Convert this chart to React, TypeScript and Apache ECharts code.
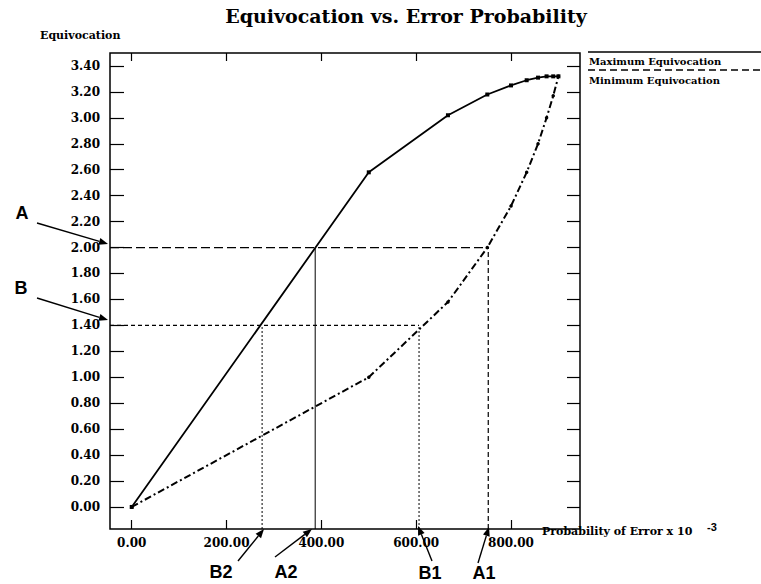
import React, { useEffect, useRef } from "react";
import * as echarts from "echarts";

// Data
const probError = [0, 500, 667, 750, 800, 833, 857, 875, 889, 900];
const maxEquivocation = [0, 2.58, 3.02, 3.18, 3.25, 3.29, 3.31, 3.32, 3.32, 3.32];
const minEquivocation = [0, 1.0, 1.58, 2.0, 2.32, 2.58, 2.8, 3.0, 3.17, 3.32];

const yTickValues = [0, 0.2, 0.4, 0.6, 0.8, 1.0, 1.2, 1.4, 1.6, 1.8, 2.0, 2.2, 2.4, 2.6, 2.8, 3.0, 3.2, 3.4];
const xTickValues = [0, 200, 400, 600, 800];

const levelA = 2.0;
const levelB = 1.4;
const a1X = 752;
const a2X = 387;
const b1X = 606;
const b2X = 275;

const X_MIN = -45.8;
const X_MAX = 945.5;
const Y_MIN = -0.17;
const Y_MAX = 3.5;

const SERIF = "DejaVu Serif";
const SANS = "Liberation Sans";

function arrow(x1: number, y1: number, x2: number, y2: number) {
  const ang = Math.atan2(y2 - y1, x2 - x1);
  const c = Math.cos(ang);
  const s = Math.sin(ang);
  const L = 9;
  const W = 3.5;
  const bx = x2 - L * c;
  const by = y2 - L * s;
  const px = -s * W;
  const py = c * W;
  return [
    {
      type: "line",
      shape: { x1, y1, x2: bx, y2: by },
      style: { stroke: "#000", lineWidth: 1.4 },
      z: 100,
    },
    {
      type: "polygon",
      shape: { points: [[x2, y2], [bx + px, by + py], [bx - px, by - py]] },
      style: { fill: "#000" },
      z: 100,
    },
  ];
}

function annText(text: string, x: number, y: number) {
  return {
    type: "text",
    x,
    y,
    style: {
      text,
      fill: "#000",
      font: `bold 18px "${SANS}"`,
      textAlign: "center",
      textVerticalAlign: "middle",
    },
    z: 100,
  };
}

function refLine(data: number[][], type: any, width: number) {
  return {
    type: "line",
    data,
    symbol: "none",
    silent: true,
    lineStyle: { color: "#000", width, type },
    z: 1,
  };
}

export default function App() {
  const ref = useRef<HTMLDivElement>(null);

  useEffect(() => {
    if (!ref.current) return;
    const chart = echarts.init(ref.current, undefined, { renderer: "svg" });

    const maxData = probError.map((p, i) => [p, maxEquivocation[i]]);
    const minData = probError.map((p, i) => [p, minEquivocation[i]]);

    const labelStyle = {
      fontFamily: SERIF,
      fontWeight: "bold" as const,
      fontSize: 12,
      color: "#000",
    };
    const tickLine = { color: "#000", width: 1.2 };

    const option: any = {
      animation: false,
      backgroundColor: "#fff",
      grid: {
        left: 110,
        right: 181,
        top: 53,
        bottom: 55,
        show: true,
        borderColor: "#000",
        borderWidth: 1.5,
      },
      xAxis: [
        {
          type: "value",
          position: "bottom",
          min: X_MIN,
          max: X_MAX,
          axisLine: { show: false, onZero: false },
          splitLine: { show: false },
          axisTick: { inside: true, length: 9, customValues: xTickValues, lineStyle: tickLine },
          axisLabel: {
            ...labelStyle,
            customValues: xTickValues,
            margin: 8,
            formatter: (v: number) => v.toFixed(2),
          },
        },
        {
          type: "value",
          position: "top",
          min: X_MIN,
          max: X_MAX,
          axisLine: { show: false, onZero: false },
          splitLine: { show: false },
          axisTick: { inside: true, length: 8, customValues: xTickValues, lineStyle: tickLine },
          axisLabel: { show: false },
        },
      ],
      yAxis: [
        {
          type: "value",
          position: "left",
          min: Y_MIN,
          max: Y_MAX,
          axisLine: { show: false, onZero: false },
          splitLine: { show: false },
          axisTick: { inside: true, length: 14, customValues: yTickValues, lineStyle: tickLine },
          axisLabel: {
            ...labelStyle,
            customValues: yTickValues,
            margin: 10,
            formatter: (v: number) => v.toFixed(2),
          },
        },
        {
          type: "value",
          position: "right",
          min: Y_MIN,
          max: Y_MAX,
          axisLine: { show: false, onZero: false },
          splitLine: { show: false },
          axisTick: { inside: true, length: 13, customValues: yTickValues, lineStyle: tickLine },
          axisLabel: { show: false },
        },
      ],
      series: [
        {
          name: "Maximum Equivocation",
          type: "line",
          data: maxData,
          symbol: "rect",
          symbolSize: 4,
          lineStyle: { color: "#000", width: 1.8 },
          itemStyle: { color: "#000" },
          z: 5,
        },
        {
          name: "Minimum Equivocation",
          type: "line",
          data: minData,
          symbol: "circle",
          symbolSize: 3.5,
          lineStyle: { color: "#000", width: 2, type: [7, 3, 2, 3] },
          itemStyle: { color: "#000" },
          z: 5,
        },
        // A: horizontal at 2.00, verticals A1 (dashed) and A2 (solid)
        refLine([[X_MIN, levelA], [a1X, levelA]], [9, 4], 1.2),
        refLine([[a1X, Y_MIN], [a1X, levelA]], [5, 3], 1.2),
        refLine([[a2X, Y_MIN], [a2X, levelA]], "solid", 1),
        // B: horizontal at 1.40, verticals B1, B2 (dotted)
        refLine([[X_MIN, levelB], [b1X, levelB]], [4, 3], 1.2),
        refLine([[b1X, Y_MIN], [b1X, levelB]], [2, 2], 1),
        refLine([[b2X, Y_MIN], [b2X, levelB]], [2, 2], 1),
      ],
      graphic: [
        {
          type: "text",
          x: 406,
          y: 16,
          style: {
            text: "Equivocation vs. Error Probability",
            fill: "#000",
            font: `bold 19px "${SERIF}"`,
            textAlign: "center",
            textVerticalAlign: "middle",
          },
        },
        {
          type: "text",
          x: 40,
          y: 35,
          style: {
            text: "Equivocation",
            fill: "#000",
            font: `bold 11px "${SERIF}"`,
            textAlign: "left",
            textVerticalAlign: "middle",
          },
        },
        {
          type: "text",
          x: 542,
          y: 531,
          style: {
            text: "Probability of Error x 10",
            fill: "#000",
            font: `bold 11px "${SERIF}"`,
            textAlign: "left",
            textVerticalAlign: "middle",
          },
          z: 50,
        },
        {
          type: "text",
          x: 707,
          y: 527,
          style: {
            text: "-3",
            fill: "#000",
            font: `bold 11px "${SANS}"`,
            textAlign: "left",
            textVerticalAlign: "middle",
          },
          z: 50,
        },
        // legend
        {
          type: "line",
          shape: { x1: 588, y1: 52, x2: 761, y2: 52 },
          style: { stroke: "#000", lineWidth: 1.5 },
        },
        {
          type: "text",
          x: 589,
          y: 61,
          style: {
            text: "Maximum Equivocation",
            fill: "#000",
            font: `bold 10px "${SERIF}"`,
            textAlign: "left",
            textVerticalAlign: "middle",
          },
        },
        {
          type: "line",
          shape: { x1: 588, y1: 70, x2: 761, y2: 70 },
          style: { stroke: "#000", lineWidth: 1.5, lineDash: [7, 4] },
        },
        {
          type: "text",
          x: 589,
          y: 80,
          style: {
            text: "Minimum Equivocation",
            fill: "#000",
            font: `bold 10px "${SERIF}"`,
            textAlign: "left",
            textVerticalAlign: "middle",
          },
        },
        // annotations
        annText("A", 22, 213),
        ...arrow(37, 223, 108, 244),
        annText("B", 21, 288),
        ...arrow(37, 298, 108, 320),
        annText("B2", 221, 572),
        ...arrow(238, 561, 264, 529),
        annText("A2", 286, 572),
        ...arrow(275, 557, 312, 529),
        annText("B1", 430, 573),
        ...arrow(432, 561, 418, 526),
        annText("A1", 484, 573),
        ...arrow(478, 563, 489, 527),
      ],
    };

    chart.setOption(option);
    return () => chart.dispose();
  }, []);

  return (
    <div
      ref={ref}
      style={{ position: "absolute", left: 0, top: 0, width: 761, height: 584 }}
    />
  );
}
